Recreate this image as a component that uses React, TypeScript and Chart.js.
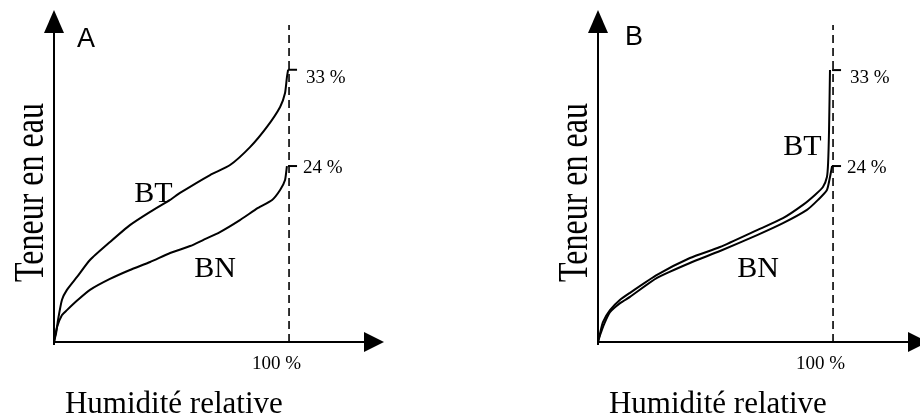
import React, { useEffect, useRef } from "react";
import { Chart, registerables } from "chart.js";

Chart.register(...registerables);

// ---- Data (relative humidity in % of saturation on x; schematic water content on y) ----
const X_MAX = 140.4; // arrow tip of the humidity axis
const Y_MAX = 100; // arrow tip of the water-content axis
const SATURATION = 100; // "100 %" relative humidity
const DASH_TOP = 95.5;

// Panel A
const btA_x = [0, 0.9, 1.7, 3.4, 5.5, 9.8, 15.3, 23.8, 32.3, 40.9, 49.4, 53.6, 66.4, 74.9, 83.4, 90.6, 96.2, 98.3, 99.1, 99.6];
const btA_y = [0, 2.7, 6.6, 12.7, 15.7, 19.6, 24.7, 30.1, 35.2, 39.2, 42.8, 44.9, 50.3, 53.3, 58.7, 64.8, 70.8, 75.0, 79.8, 82.0];
const bnA_x = [0, 1.3, 3.4, 5.5, 10.2, 15.3, 23.8, 32.3, 40.9, 49.4, 57.9, 63.4, 70.6, 79.1, 86.8, 92.8, 96.2, 98.3, 99.1];
const bnA_y = [0, 4.5, 8.1, 9.6, 12.7, 15.7, 19.0, 21.7, 24.1, 26.8, 28.9, 30.7, 33.1, 36.7, 40.4, 42.8, 45.8, 48.8, 53.0];

// Panel B
const btB_x = [0, 0.9, 2.1, 5.1, 9.4, 13.6, 25.1, 39.1, 51.9, 67.7, 78.7, 87.2, 92.3, 95.7, 97.4, 97.9, 98.3, 98.7];
const btB_y = [0, 2.7, 6.0, 9.6, 12.7, 14.8, 20.2, 25.3, 28.6, 33.7, 37.3, 41.3, 44.3, 46.7, 49.7, 53.9, 63.9, 81.9];
const bnB_x = [0, 0.9, 2.6, 5.1, 9.4, 13.6, 25.1, 39.1, 51.9, 67.7, 78.7, 88.9, 93.6, 97.4, 98.7, 99.6];
const bnB_y = [0, 2.1, 5.4, 9.0, 11.7, 13.6, 19.3, 23.8, 27.4, 32.2, 35.8, 39.8, 42.8, 45.8, 49.7, 53.0];

const seriesNames = ["BT", "BN"];
const endLabels = ["33 %", "24 %"];
const panelLetters = ["A", "B"];
const xTickLabel = "100 %";
const xTitle = "Humidité relative";
const yTitle = "Teneur en eau";

// anchor of the curve names (data coords)
const nameAnchorsA = [
  { x: 42.3, y: 42.2 },
  { x: 68.5, y: 19.6 },
];
const nameAnchorsB = [
  { x: 87.0, y: 56.3 },
  { x: 68.1, y: 19.6 },
];

// ---- Styles / layout ----
const SERIF = '"Liberation Serif", "Times New Roman", serif';
const SANS = '"Liberation Sans", Arial, sans-serif';
const endLabelDy = [13, 7]; // baseline offset below the end tick

type PanelCfg = {
  letter: string;
  letterDx: number;
  letterBaseline: number;
  canvasLeft: number;
  width: number;
  padding: { left: number; right: number; top: number; bottom: number };
  series: { x: number[]; y: number[] }[];
  anchors: { x: number; y: number }[];
};

const toPts = (xs: number[], ys: number[]) => xs.map((x, i) => ({ x, y: ys[i] }));

const panels: PanelCfg[] = [
  {
    letter: panelLetters[0],
    letterDx: 23,
    letterBaseline: 47,
    canvasLeft: 0,
    width: 460,
    padding: { left: 54, right: 76, top: 10, bottom: 74 },
    series: [
      { x: btA_x, y: btA_y },
      { x: bnA_x, y: bnA_y },
    ],
    anchors: nameAnchorsA,
  },
  {
    letter: panelLetters[1],
    letterDx: 27,
    letterBaseline: 45,
    canvasLeft: 460,
    width: 480,
    padding: { left: 138, right: 12, top: 10, bottom: 74 },
    series: [
      { x: btB_x, y: btB_y },
      { x: bnB_x, y: bnB_y },
    ],
    anchors: nameAnchorsB,
  },
];

function makeDecor(cfg: PanelCfg) {
  return {
    id: "panelDecor",
    afterDatasetsDraw(chart: any) {
      const ctx: CanvasRenderingContext2D = chart.ctx;
      const xs = chart.scales.x;
      const ys = chart.scales.y;
      const x0 = xs.getPixelForValue(0);
      const y0 = ys.getPixelForValue(0);
      const xEnd = xs.getPixelForValue(X_MAX);
      const yEnd = ys.getPixelForValue(Y_MAX);
      const xSat = xs.getPixelForValue(SATURATION);
      ctx.save();
      ctx.strokeStyle = "#000";
      ctx.fillStyle = "#000";
      ctx.lineWidth = 2;
      ctx.setLineDash([]);
      // y axis + arrow
      ctx.beginPath();
      ctx.moveTo(x0, y0 + 3);
      ctx.lineTo(x0, yEnd + 20);
      ctx.stroke();
      ctx.beginPath();
      ctx.moveTo(x0, yEnd);
      ctx.lineTo(x0 - 10, yEnd + 23);
      ctx.lineTo(x0 + 10, yEnd + 23);
      ctx.closePath();
      ctx.fill();
      // x axis + arrow
      ctx.beginPath();
      ctx.moveTo(x0 - 1, y0);
      ctx.lineTo(xEnd - 18, y0);
      ctx.stroke();
      ctx.beginPath();
      ctx.moveTo(xEnd, y0);
      ctx.lineTo(xEnd - 20, y0 - 10);
      ctx.lineTo(xEnd - 20, y0 + 10);
      ctx.closePath();
      ctx.fill();

      // end ticks + labels
      cfg.series.forEach((s, i) => {
        const py = ys.getPixelForValue(s.y[s.y.length - 1]);
        ctx.beginPath();
        ctx.moveTo(xSat - 1, py);
        ctx.lineTo(xSat + 8, py);
        ctx.stroke();
        ctx.font = `19px ${SERIF}`;
        ctx.textAlign = "left";
        ctx.textBaseline = "alphabetic";
        ctx.fillText(endLabels[i], xSat + (i === 0 ? 17 : 14), py + endLabelDy[i]);
      });

      // curve names
      ctx.font = `30px ${SERIF}`;
      ctx.textAlign = "center";
      ctx.textBaseline = "alphabetic";
      cfg.anchors.forEach((a, i) => {
        ctx.fillText(seriesNames[i], xs.getPixelForValue(a.x), ys.getPixelForValue(a.y));
      });

      // 100 % label
      ctx.font = `19px ${SERIF}`;
      ctx.textAlign = "right";
      ctx.fillText(xTickLabel, xSat + 12, y0 + 27);

      // x title
      ctx.font = `31px ${SERIF}`;
      ctx.textAlign = "center";
      ctx.fillText(xTitle, xs.getPixelForValue(51), y0 + 71);

      // y title (rotated, vertically stretched like the original)
      ctx.save();
      ctx.translate(x0 - 11, ys.getPixelForValue(45));
      ctx.rotate(-Math.PI / 2);
      ctx.scale(1, 1.35);
      ctx.font = `32px ${SERIF}`;
      ctx.textAlign = "center";
      ctx.fillText(yTitle, 0, 0);
      ctx.restore();

      // panel letter
      ctx.font = `27px ${SANS}`;
      ctx.textAlign = "left";
      ctx.fillText(cfg.letter, x0 + cfg.letterDx, cfg.letterBaseline);
      ctx.restore();
    },
  };
}

function Panel({ cfg }: { cfg: PanelCfg }) {
  const ref = useRef<HTMLCanvasElement | null>(null);
  useEffect(() => {
    if (!ref.current) return;
    const curveSets = cfg.series.map((s, i) => ({
      label: seriesNames[i],
      data: toPts(s.x, s.y),
      showLine: true,
      borderColor: "#000",
      backgroundColor: "#000",
      borderWidth: 2,
      pointRadius: 0,
      tension: 0.2,
      fill: false,
      clip: false as any,
    }));
    const dashSet = {
      label: "saturation",
      data: [
        { x: SATURATION, y: 0 },
        { x: SATURATION, y: DASH_TOP },
      ],
      showLine: true,
      borderColor: "#000",
      borderWidth: 1.6,
      borderDash: [8, 5],
      pointRadius: 0,
      fill: false,
      clip: false as any,
    };
    const chart = new Chart(ref.current, {
      type: "scatter",
      data: { datasets: [dashSet as any, ...(curveSets as any)] },
      options: {
        responsive: false,
        animation: false,
        events: [],
        layout: { padding: cfg.padding },
        scales: {
          x: { type: "linear", min: 0, max: X_MAX, display: false },
          y: { type: "linear", min: 0, max: Y_MAX, display: false },
        },
        plugins: { legend: { display: false }, tooltip: { enabled: false } },
      },
      plugins: [makeDecor(cfg)],
    });
    return () => chart.destroy();
  }, [cfg]);
  return (
    <canvas
      ref={ref}
      width={cfg.width}
      height={416}
      style={{ position: "absolute", left: cfg.canvasLeft, top: 0, width: cfg.width, height: 416 }}
    />
  );
}

export default function App() {
  return (
    <div
      style={{
        position: "absolute",
        left: 0,
        top: 0,
        width: 920,
        height: 416,
        overflow: "hidden",
        background: "#fff",
      }}
    >
      {panels.map((p) => (
        <Panel key={p.letter} cfg={p} />
      ))}
    </div>
  );
}
